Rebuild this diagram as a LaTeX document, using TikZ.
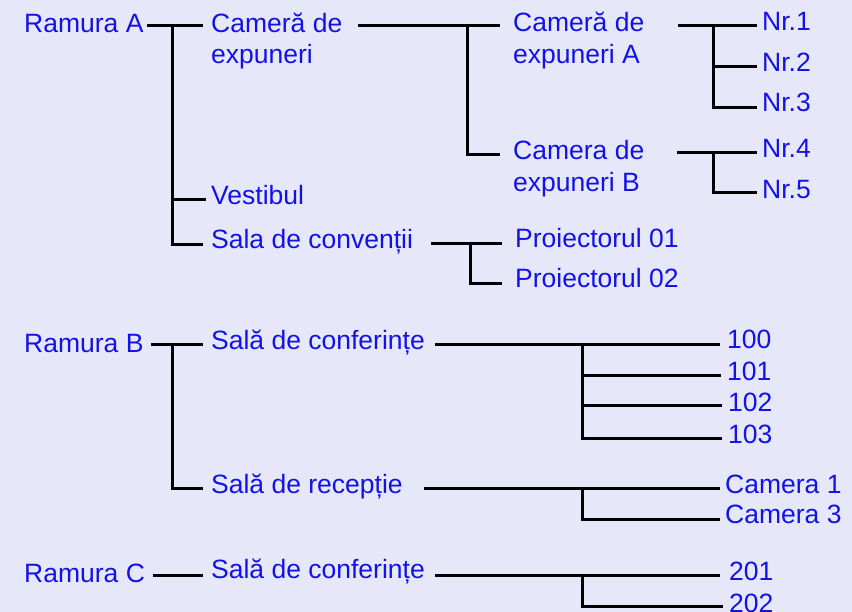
\documentclass[tikz,border=0pt]{standalone}
\usepackage{fontspec}
\setmainfont{Liberation Sans}
\definecolor{bgc}{RGB}{230,232,250}
\definecolor{txtc}{RGB}{18,18,232}
\tikzset{
  lbl/.style={anchor=base west, inner sep=0pt, text=txtc, font=\fontsize{26.5}{31.5}\selectfont, align=left},
  conn/.style={draw=black, line width=3pt, line join=miter}
}
\begin{document}
\begin{tikzpicture}[x=1pt,y=-1pt]
\fill[bgc] (0,0) rectangle (852,612);
\useasboundingbox (0,0) rectangle (852,612);

% ---- Ramura A ----
\node[lbl] (rA) at (24,33) {Ramura A};
\node[lbl] (camexp) at (211,33) {Cameră de};
\node[lbl] (camexp2) at (211,64) {expuneri};
\node[lbl] (vest) at (211,205) {Vestibul};
\node[lbl] (salconv) at (211,249) {Sala de convenții};
\node[lbl] (camA) at (513,32) {Cameră de};
\node[lbl] (camA2) at (513,63.5) {expuneri A};
\node[lbl] (camB) at (513,160) {Camera de};
\node[lbl] (camB2) at (513,192) {expuneri B};
\node[lbl] (nr1) at (762,31) {Nr.1};
\node[lbl] (nr2) at (762,72) {Nr.2};
\node[lbl] (nr3) at (762,112) {Nr.3};
\node[lbl] (nr4) at (762,158) {Nr.4};
\node[lbl] (nr5) at (762,199) {Nr.5};
\node[lbl] (pr1) at (515,248) {Proiectorul 01};
\node[lbl] (pr2) at (515,288) {Proiectorul 02};

\coordinate (a0) at (147,26);
\coordinate (aj) at (172,26);
\coordinate (a1) at (203,26);
\coordinate (a2) at (206,200);
\coordinate (a3) at (203,245);
\draw[conn] (a0) -- (a1);
\draw[conn] (aj) |- (a2);
\draw[conn] (aj) |- (a3);

\coordinate (c0) at (358,26);
\coordinate (cj) at (467,26);
\coordinate (c1) at (500,26);
\coordinate (c2) at (500,155);
\draw[conn] (c0) -- (c1);
\draw[conn] (cj) |- (c2);

\coordinate (n0) at (678,26);
\coordinate (nj) at (713,26);
\coordinate (n1) at (757,26);
\coordinate (n2) at (757,67);
\coordinate (n3) at (757,108);
\draw[conn] (n0) -- (n1);
\draw[conn] (nj) |- (n2);
\draw[conn] (nj) |- (n3);

\coordinate (m0) at (677,153);
\coordinate (mj) at (713,153);
\coordinate (m4) at (757,153);
\coordinate (m5) at (757,193);
\draw[conn] (m0) -- (m4);
\draw[conn] (mj) |- (m5);

\coordinate (p0) at (431,244);
\coordinate (pj) at (470,244);
\coordinate (p1) at (502,244);
\coordinate (p2) at (502,284);
\draw[conn] (p0) -- (p1);
\draw[conn] (pj) |- (p2);

% ---- Ramura B ----
\node[lbl] (rB) at (24,353) {Ramura B};
\node[lbl] (salconf) at (211,350) {Sală de conferințe};
\node[lbl] (salrec) at (211,493) {Sală de recepție};
\node[lbl] (r100) at (727,349) {100};
\node[lbl] (r101) at (727,381) {101};
\node[lbl] (r102) at (728,412) {102};
\node[lbl] (r103) at (728,443) {103};
\node[lbl] (cam1) at (725,493) {Camera 1};
\node[lbl] (cam3) at (725,523) {Camera 3};

\coordinate (b0) at (151,345);
\coordinate (bj) at (172,345);
\coordinate (b1) at (203,345);
\coordinate (b2) at (203,488);
\draw[conn] (b0) -- (b1);
\draw[conn] (bj) |- (b2);

\coordinate (s0) at (435,345);
\coordinate (sj) at (582,345);
\coordinate (s1) at (720,345);
\coordinate (s2) at (721,376);
\coordinate (s3) at (722,406);
\coordinate (s4) at (722,438);
\draw[conn] (s0) -- (s1);
\draw[conn] (sj) |- (s2);
\draw[conn] (sj) |- (s3);
\draw[conn] (sj) |- (s4);

\coordinate (e0) at (424,488);
\coordinate (ej) at (582,488);
\coordinate (e1) at (720,488);
\coordinate (e2) at (720,519);
\draw[conn] (e0) -- (e1);
\draw[conn] (ej) |- (e2);

% ---- Ramura C ----
\node[lbl] (rC) at (24,582) {Ramura C};
\node[lbl] (salconf2) at (211,578) {Sală de conferințe};
\node[lbl] (r201) at (729,580) {201};
\node[lbl] (r202) at (729,612) {202};

\coordinate (k0) at (153,575);
\coordinate (k1) at (203,575);
\draw[conn] (k0) -- (k1);

\coordinate (t0) at (435,575);
\coordinate (tj) at (582,575);
\coordinate (t1) at (720,575);
\coordinate (t2) at (723,606);
\draw[conn] (t0) -- (t1);
\draw[conn] (tj) |- (t2);
\end{tikzpicture}
\end{document}
